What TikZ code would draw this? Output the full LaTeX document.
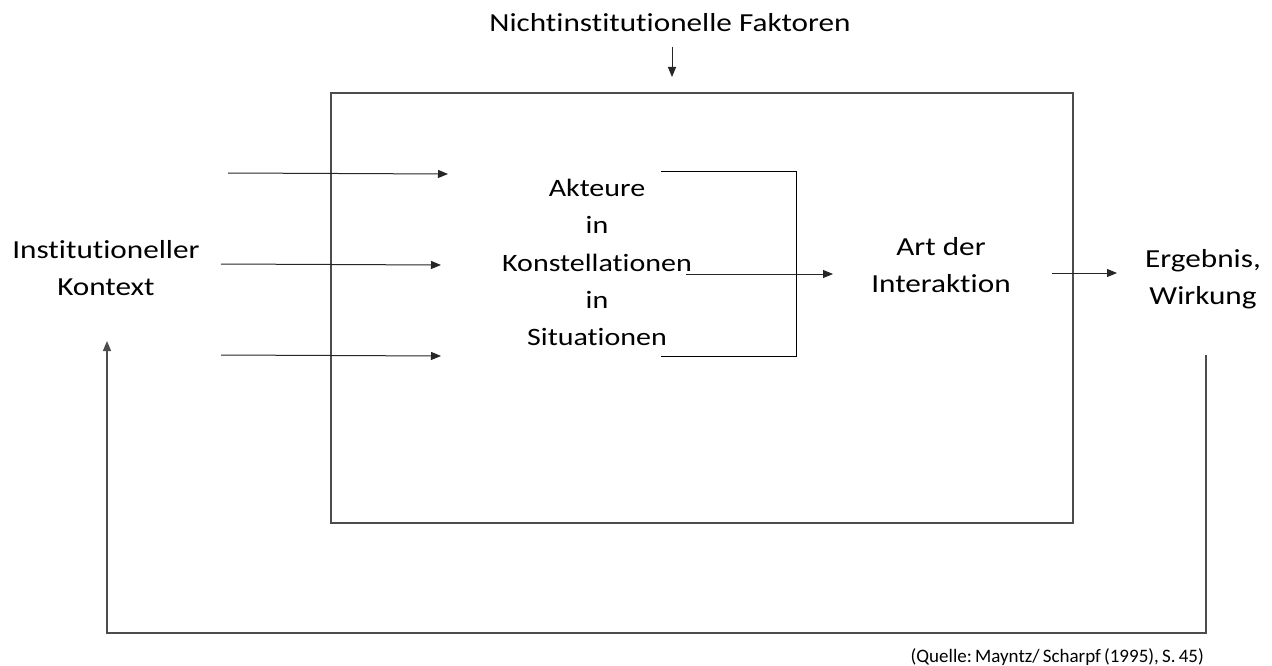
\documentclass[tikz,border=0pt]{standalone}
\usepackage{fontspec}
\setmainfont{Carlito}[FakeStretch=1.2, Ligatures=NoCommon]
\newfontfamily\quellefont{Carlito}[Ligatures=NoCommon]
\frenchspacing
\usetikzlibrary{arrows.meta}
\tikzset{my label/.style={align=center, anchor=base, text=black, font=\fontsize{26bp}{37bp}\selectfont},
my frame/.style={draw=black!70, line width=1.4bp},
my line/.style={draw=black, line width=1bp},
my arrow/.style={draw=black!85, line width=1bp, -{Triangle[length=10bp,width=8bp]}},}

\begin{document}
\begin{tikzpicture}[x=1bp,y=-1bp]
\useasboundingbox (0,0) rectangle (1272,666);
% Rahmen
\draw [my frame] (331,93) rectangle (1073,523);
% Texte
\node [my label] (faktoren) at (670,32) {Nichtinstitutionelle Faktoren};
\node [my label] (kontext) at (106,295) {Institutioneller\\Kontext};
\node [my label, font=\fontsize{25bp}{37bp}\selectfont] (akteure) at (597,345) {Akteure\\in\\Konstellationen\\in\\Situationen};
\node [my label] (interaktion) at (941,292) {Art der\\Interaktion};
\node [my label] (ergebnis) at (1203,304) {Ergebnis,\\Wirkung};
\node [anchor=base east, inner sep=0pt, font=\quellefont\fontsize{19bp}{23bp}\selectfont] (quelle) at (1204,662) {(Quelle:\,Mayntz/\,Scharpf\,(1995),\,S.\,45)};
% Punkte
\coordinate (f1) at (672,47);
\coordinate (f2) at (672,77);
\coordinate (e1) at (228,173);
\coordinate (e2) at (221,264);
\coordinate (e3) at (221,355);
\coordinate (z1) at (448,174);
\coordinate (z2) at (441,265);
\coordinate (z3) at (441,356);
\coordinate (ko) at (661,172);
\coordinate (kr) at (796,172);
\coordinate (ur) at (796,356);
\coordinate (ku) at (661,356);
\coordinate (m1) at (686,274);
\coordinate (m2) at (833,274);
\coordinate (a1) at (1052,273);
\coordinate (a2) at (1117,273);
\coordinate (r1) at (1206,355);
\coordinate (r2) at (1206,633);
\coordinate (l2) at (107,633);
\coordinate (l1) at (107,341);
% Pfeile
\draw [my arrow] (f1) -- (f2);
\draw [my arrow] (e1) -- (z1);
\draw [my arrow] (e2) -- (z2);
\draw [my arrow] (e3) -- (z3);
\draw [my line] (ko) -- (kr) -- (ur) -- (ku);
\draw [my arrow] (m1) -- (m2);
\draw [my arrow] (a1) -- (a2);
\draw [my arrow, draw=black!70, line width=1.4bp] (r1) -- (r2) -- (l2) -- (l1);
\end{tikzpicture}
\end{document}
